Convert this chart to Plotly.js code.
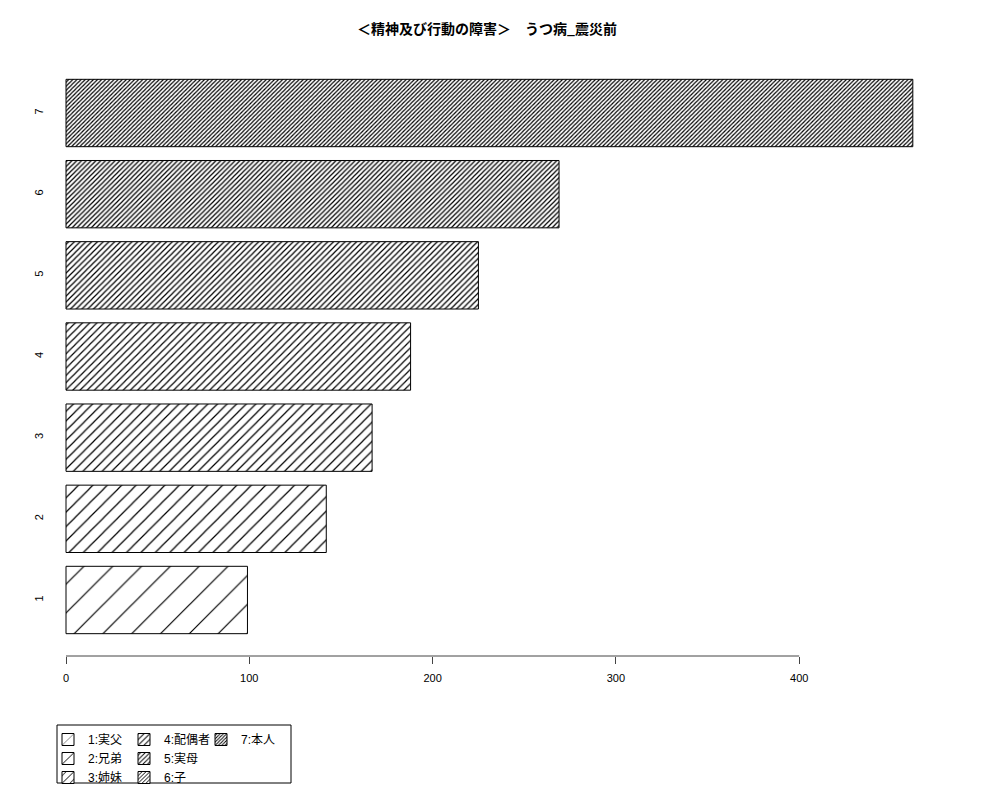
<!DOCTYPE html>
<html>
<head>
<meta charset="utf-8">
<script src="https://cdn.plot.ly/plotly-3.0.1.min.js"></script>
<style>
  body { margin: 0; background: #fff; }
  #plot { width: 1000px; height: 800px; }
</style>
</head>
<body>
<div id="plot"></div>
<script>
// data
var categories = ["1", "2", "3", "4", "5", "6", "7"];
var counts = [99, 142, 167, 188, 225, 269, 462];
var legendNames = ["1:実父", "2:兄弟", "3:姉妹", "4:配偶者", "5:実母", "6:子", "7:本人"];
var xTicks = [0, 100, 200, 300, 400];
var chartTitle = "＜精神及び行動の障害＞　うつ病_震災前";

// hatch density (lines per inch, like R's density=)
var hatchDensity = [5, 10, 15, 20, 25, 30, 35];

var FONT = "Liberation Sans, Noto Sans CJK JP, sans-serif";

function legendFor(i) {
  if (i < 3) return "legend";
  if (i < 6) return "legend2";
  return "legend3";
}

var traces = [];
for (var i = 0; i < categories.length; i++) {
  // tile size so the diagonal lines are 72/density px apart
  var size = 72 * Math.SQRT2 / hatchDensity[i];
  traces.push({
    type: "bar",
    orientation: "h",
    x: [counts[i]],
    y: [Number(categories[i])],
    width: 0.83,
    name: legendNames[i],
    legend: legendFor(i),
    hoverinfo: "skip",
    marker: {
      color: "#fff",
      line: { color: "#000", width: 1 },
      pattern: {
        shape: "/",
        size: size,
        solidity: Math.min(0.5, 1.2 / size),
        fgcolor: "#000",
        fgopacity: 1,
        bgcolor: "#fff",
        fillmode: "replace"
      }
    }
  });
}

var legendBase = {
  xref: "container", yref: "container",
  xanchor: "left",
  y: 1 - 725 / 800, yanchor: "top",
  orientation: "v",
  bgcolor: "rgba(0,0,0,0)",
  borderwidth: 0,
  font: { family: FONT, size: 12, color: "#000" },
  itemclick: false, itemdoubleclick: false,
  tracegroupgap: 0
};

var layout = {
  width: 1000,
  height: 800,
  paper_bgcolor: "#fff",
  plot_bgcolor: "#fff",
  margin: { l: 46, r: 54, t: 57, b: 144, autoexpand: false },
  barmode: "overlay",
  showlegend: true,
  title: {
    text: "<b>" + chartTitle + "</b>",
    font: { family: "Noto Sans CJK JP, sans-serif", size: 14, color: "#000" },
    x: 0.487, xref: "container", xanchor: "center",
    y: 1 - 29 / 800, yref: "container", yanchor: "middle"
  },
  xaxis: {
    range: [-10.91, 480.1],
    autorange: false,
    tickmode: "array",
    tickvals: xTicks,
    ticktext: xTicks.map(String),
    ticks: "outside",
    ticklen: 7,
    tickcolor: "#444",
    tickwidth: 1,
    ticklabelstandoff: 5,
    showline: false,
    showgrid: false,
    zeroline: false,
    automargin: false,
    tickfont: { family: FONT, size: 11, color: "#000" },
    fixedrange: true
  },
  yaxis: {
    range: [0.31, 7.69],
    autorange: false,
    tickmode: "array",
    tickvals: categories.map(Number),
    ticktext: categories,
    tickangle: -90,
    ticks: "",
    showline: false,
    showgrid: false,
    zeroline: false,
    automargin: false,
    tickfont: { family: FONT, size: 11, color: "#000" },
    fixedrange: true
  },
  legend: Object.assign({}, legendBase, { x: 0.048 }),
  legend2: Object.assign({}, legendBase, { x: 0.124 }),
  legend3: Object.assign({}, legendBase, { x: 0.201 }),
  shapes: [
    // x axis line spans first to last tick, like R's axis()
    {
      type: "line", xref: "x", yref: "paper",
      x0: xTicks[0], x1: xTicks[xTicks.length - 1], y0: 0, y1: 0,
      line: { color: "#444", width: 1 }
    },
    // legend frame
    {
      type: "rect", xref: "paper", yref: "paper",
      x0: 11 / 900, x1: 245 / 900,
      y0: (656 - 783) / 599, y1: (656 - 725) / 599,
      line: { color: "#000", width: 1 },
      fillcolor: "rgba(0,0,0,0)"
    }
  ]
};

Plotly.newPlot("plot", traces, layout, { staticPlot: true });
</script>
</body>
</html>
